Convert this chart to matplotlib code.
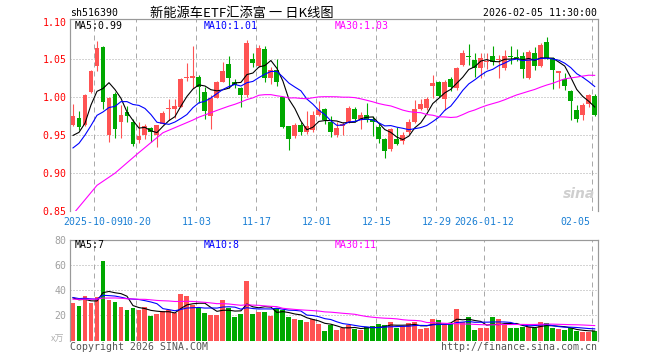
import matplotlib
matplotlib.use('Agg')
import matplotlib.pyplot as plt
import numpy as np
import pandas as pd

# ---------------- data ----------------
tick_idx = [4, 11, 21, 31, 41, 51, 61, 69, 87]
tick_labels = ['2025-10-09', '10-20', '11-03', '11-17', '12-01', '12-15',
               '12-29', '2026-01-12', '02-05']

open_ = [0.9634, 0.9731, 0.9634, 1.0075, 1.0418, 1.0665, 0.9502, 1.0040, 0.9670, 0.9810,
         0.9670, 0.9436, 0.9502, 0.9596, 0.9500, 0.9656, 0.9846, 0.9846, 0.9877, 1.0251,
         1.0260, 1.0269, 1.0066, 0.9758, 0.9996, 1.0207, 1.0436, 1.0198, 1.0128, 1.0030,
         1.0507, 1.0418, 1.0639, 1.0250, 1.0360, 1.0009, 0.9626, 0.9494, 0.9634, 0.9550,
         0.9568, 0.9775, 0.9846, 0.9678, 0.9502, 0.9620, 0.9678, 0.9846, 0.9714, 0.9767,
         0.9714, 0.9612, 0.9450, 0.9317, 0.9450, 0.9423, 0.9538, 0.9678, 0.9846, 0.9864,
         1.0150, 1.0207, 0.9978, 1.0242, 1.0128, 1.0427, 1.0537, 1.0493, 1.0383, 1.0460,
         1.0546, 1.0490, 1.0383, 1.0535, 1.0535, 1.0546, 1.0260, 1.0580, 1.0418, 1.0735,
         1.0516, 1.0320, 1.0242, 1.0084, 0.9833, 0.9767, 0.9908, 1.0020]
high = [0.9907, 0.9819, 1.0050, 1.0360, 1.0749, 1.0680, 1.0010, 1.0075, 0.9900, 0.9885,
        0.9720, 0.9680, 0.9656, 0.9610, 0.9643, 0.9820, 0.9978, 0.9978, 1.0250, 1.0458,
        1.0680, 1.0300, 1.0136, 1.0030, 1.0210, 1.0463, 1.0546, 1.0240, 1.0140, 1.0758,
        1.0581, 1.0690, 1.0683, 1.0400, 1.0510, 1.0010, 0.9630, 0.9660, 0.9678, 0.9820,
        0.9820, 0.9950, 0.9860, 0.9750, 0.9678, 0.9680, 0.9890, 0.9880, 0.9810, 0.9920,
        0.9760, 0.9650, 0.9460, 0.9600, 0.9610, 0.9546, 0.9720, 0.9965, 0.9980, 1.0010,
        1.0300, 1.0220, 1.0230, 1.0270, 1.0400, 1.0625, 1.0705, 1.0580, 1.0580, 1.0580,
        1.0680, 1.0560, 1.0625, 1.0680, 1.0640, 1.0603, 1.0625, 1.0670, 1.0720, 1.0800,
        1.0530, 1.0350, 1.0317, 1.0100, 0.9900, 0.9920, 1.0050, 1.0040]
low = [0.9620, 0.9568, 0.9620, 1.0060, 1.0352, 0.9846, 0.9414, 0.9467, 0.9470, 0.9680,
       0.9360, 0.9400, 0.9458, 0.9416, 0.9350, 0.9650, 0.9700, 0.9735, 0.9870, 1.0220,
       1.0120, 0.9925, 0.9714, 0.9580, 0.9990, 1.0200, 1.0119, 1.0120, 0.9877, 1.0000,
       1.0405, 1.0400, 1.0207, 1.0180, 1.0150, 0.9600, 0.9313, 0.9460, 0.9500, 0.9520,
       0.9550, 0.9750, 0.9650, 0.9480, 0.9480, 0.9500, 0.9660, 0.9680, 0.9590, 0.9670,
       0.9490, 0.9405, 0.9207, 0.9300, 0.9370, 0.9392, 0.9520, 0.9660, 0.9830, 0.9840,
       0.9996, 1.0000, 0.9830, 1.0080, 1.0100, 1.0410, 1.0430, 1.0270, 1.0250, 1.0380,
       1.0430, 1.0260, 1.0360, 1.0436, 1.0480, 1.0260, 1.0240, 1.0360, 1.0400, 1.0500,
       1.0106, 1.0128, 1.0097, 0.9700, 0.9670, 0.9700, 0.9880, 0.9750]
close = [0.9758, 0.9612, 1.0031, 1.0352, 1.0648, 0.9943, 0.9996, 0.9580, 0.9775, 0.9754,
         0.9380, 0.9490, 0.9630, 0.9546, 0.9636, 0.9797, 0.9864, 0.9890, 1.0242, 1.0273,
         1.0280, 1.0140, 0.9819, 0.9996, 1.0198, 1.0348, 1.0250, 1.0163, 1.0030, 1.0714,
         1.0450, 1.0648, 1.0260, 1.0360, 1.0200, 0.9612, 0.9450, 0.9643, 0.9538, 0.9630,
         0.9775, 0.9833, 0.9700, 0.9538, 0.9600, 0.9650, 0.9863, 0.9714, 0.9767, 0.9700,
         0.9670, 0.9450, 0.9295, 0.9582, 0.9392, 0.9502, 0.9678, 0.9846, 0.9910, 0.9978,
         1.0185, 1.0022, 1.0207, 1.0140, 1.0383, 1.0581, 1.0530, 1.0383, 1.0516, 1.0480,
         1.0460, 1.0510, 1.0546, 1.0530, 1.0520, 1.0370, 1.0603, 1.0418, 1.0690, 1.0516,
         1.0360, 1.0348, 1.0154, 0.9952, 0.9714, 0.9899, 1.0031, 0.9775]
volume = [30.1, 27.4, 35.8, 30.1, 34.4, 63.2, 32.3, 30.6, 26.6, 24.2,
          25.8, 24.2, 26.6, 19.4, 21.0, 23.7, 24.2, 21.8, 37.1, 35.5,
          28.2, 26.1, 21.8, 20.2, 20.2, 32.3, 26.3, 18.5, 21.0, 47.6,
          21.0, 22.6, 22.6, 19.6, 26.3, 24.2, 18.8, 16.9, 16.1, 14.8,
          17.5, 12.9, 7.3, 12.6, 8.1, 9.9, 12.6, 8.9, 8.1, 10.8,
          11.6, 12.9, 12.1, 14.5, 9.9, 11.6, 13.7, 14.5, 8.9, 9.9,
          17.2, 16.1, 13.4, 13.4, 25.0, 14.8, 18.5, 8.1, 9.9, 9.9,
          18.5, 16.9, 12.6, 9.9, 9.9, 10.8, 10.8, 9.9, 14.5, 13.7,
          9.9, 8.9, 8.1, 9.9, 7.3, 6.7, 6.7, 7.3]
# closes / volumes of the 29 sessions before the window (for the moving averages)
prev_close = [0.676, 0.718, 0.750, 0.780, 0.834, 0.840, 0.798, 0.773, 0.771, 0.734,
              0.745, 0.768, 0.757, 0.769, 0.785, 0.886, 0.889, 0.924, 0.927, 0.927,
              0.900, 0.895, 0.910, 0.930, 0.950, 0.941, 0.943, 0.915, 0.975]
prev_volume = [30, 35, 28, 33, 38, 31, 29, 34, 36, 30, 33, 27, 32, 35, 31, 30, 34, 36, 31, 33,
               36, 33, 35, 37, 32, 35, 34, 36, 35]
vol_ma_text = ['MA5:7', 'MA10:8', 'MA30:11']

title = '新能源车ETF汇添富 一 日K线图'
code = 'sh516390'
stamp = '2026-02-05 11:30:00'

# ---------------- style ----------------
W, H = 660, 360
PX = 72.0 / 100.0
RED, GREEN = '#ff5353', '#00a800'
C_MA = ['#000000', '#0000ff', '#ff00ff']
GRID = '#aaaaaa'
SPINE = '#999999'
MONO = ['DejaVu Sans Mono']
CJK = ['Noto Sans CJK SC', 'DejaVu Sans']
FS = 7.1

fig = plt.figure(figsize=(W / 100, H / 100), dpi=100)
fig.patch.set_facecolor('white')
ax = fig.add_axes([70 / W, 1 - 211.3 / H, 527.7 / W, 192 / H])
axv = fig.add_axes([70 / W, 1 - 340.5 / H, 527.7 / W, 100.2 / H])

n = len(close)
x = np.arange(n)
o = np.array(open_); c = np.array(close); hi = np.array(high); lo = np.array(low)
up = c >= o
cols = [RED if u else GREEN for u in up]

fullc = pd.Series(prev_close + close)
fullv = pd.Series(prev_volume + volume)
np_ = len(prev_close)
mas = [fullc.rolling(w).mean().values[np_:] for w in (5, 10, 30)]
vmas = [fullv.rolling(w).mean().values[np_:] for w in (5, 10, 30)]

grid_x = [i - 0.42 for i in tick_idx]

# price panel
ax.set_xlim(-0.5, n - 0.5)
ax.set_ylim(0.85, 1.1029)
for g in [0.90, 0.95, 1.00, 1.05]:
    ax.axhline(g, color=GRID, lw=PX, ls=(0, (1, 2)), zorder=0)
for g in grid_x:
    ax.axvline(g, color=GRID, lw=PX, ls=(0, (5, 4)), zorder=0)
ax.vlines(x, lo, hi, colors=cols, lw=PX * 1.1, zorder=2)
body_h = np.maximum(np.abs(c - o), 0.0014)
ax.bar(x, body_h, bottom=np.minimum(o, c), width=0.82, color=cols, lw=0, zorder=3)
for m, col in zip(mas, C_MA):
    ax.plot(x, m, color=col, lw=0.8, zorder=4)

ax.set_yticks([0.85, 0.90, 0.95, 1.00, 1.05, 1.10])
ax.set_yticklabels(['%.2f' % v for v in [0.85, 0.90, 0.95, 1.00, 1.05, 1.10]])
ax.tick_params(axis='y', length=0, pad=2.5, labelcolor='#ff0000', labelsize=FS)
for t in ax.get_yticklabels():
    t.set_family(MONO)
ax.set_xticks([])
for s in ['left', 'top', 'right']:
    ax.spines[s].set_color(SPINE)
    ax.spines[s].set_linewidth(1.2 * PX)
ax.spines['bottom'].set_visible(False)

# date labels
ytr = ax.get_xaxis_transform()
for k, (i, lab) in enumerate(zip(grid_x, tick_labels)):
    ha = 'center'
    xx = i
    if k == 0:
        ha, xx = 'left', (63 - 73) / 6
    if k == len(tick_labels) - 1:
        ha, xx = 'right', (591 - 73) / 6
    ax.text(xx, -0.056, lab, transform=ytr, ha=ha, va='center', fontsize=FS,
            family=MONO, color='#1a7fd4', clip_on=False)

# watermark
ax.text(0.965, 0.09, 'sina', transform=ax.transAxes, ha='center', va='center',
        fontsize=10, fontweight='bold', style='italic', color='#cfcfcf', zorder=1)

# MA texts
fig.text(75 / W, 1 - 26 / H, 'MA5:%.2f' % mas[0][-1], color=C_MA[0], fontsize=FS, family=MONO, va='center')
fig.text(204 / W, 1 - 26 / H, 'MA10:%.2f' % mas[1][-1], color=C_MA[1], fontsize=FS, family=MONO, va='center')
fig.text(334.5 / W, 1 - 26 / H, 'MA30:%.2f' % mas[2][-1], color=C_MA[2], fontsize=FS, family=MONO, va='center')

# header
fig.text(70 / W, 1 - 13.5 / H, code, fontsize=FS, family=MONO, va='center', color='black')
fig.text(597 / W, 1 - 13.5 / H, stamp, fontsize=FS, family=MONO, va='center', ha='right', color='black')
fig.text(242 / W, 1 - 13 / H, title, fontsize=9.5, family=CJK, va='center', ha='center', color='black')

# volume panel
axv.set_xlim(-0.5, n - 0.5)
axv.set_ylim(0, 80)
for g in [20, 40, 60]:
    axv.axhline(g, color=GRID, lw=PX, ls=(0, (1, 2)), zorder=0)
for g in grid_x:
    axv.axvline(g, color=GRID, lw=PX, ls=(0, (5, 4)), zorder=0)
axv.bar(x, volume, width=0.82, color=cols, lw=0, zorder=2)
for m, col in zip(vmas, C_MA):
    axv.plot(x, m, color=col, lw=0.8, zorder=4)
axv.set_yticks([20, 40, 60, 80])
axv.set_yticklabels(['20', '40', '60', '80'])
axv.tick_params(axis='y', length=0, pad=2.5, labelcolor='#a0a0a0', labelsize=FS)
for t in axv.get_yticklabels():
    t.set_family(MONO)
axv.set_xticks([])
for s in ['left', 'top', 'right']:
    axv.spines[s].set_color(SPINE)
    axv.spines[s].set_linewidth(1.2 * PX)
axv.spines['bottom'].set_visible(False)

fig.text(75 / W, 1 - 245.5 / H, vol_ma_text[0], color=C_MA[0], fontsize=FS, family=MONO, va='center')
fig.text(204 / W, 1 - 245.5 / H, vol_ma_text[1], color=C_MA[1], fontsize=FS, family=MONO, va='center')
fig.text(334.5 / W, 1 - 245.5 / H, vol_ma_text[2], color=C_MA[2], fontsize=FS, family=MONO, va='center')
fig.text(64 / W, 1 - 339.5 / H, 'x万', color='#b0b0b0', fontsize=6.5, family=CJK, va='center', ha='right')

fig.text(70 / W, 1 - 347 / H, 'Copyright 2026 SINA.COM', color='#555555', fontsize=FS, family=MONO, va='center')
fig.text(597 / W, 1 - 347 / H, 'http://finance.sina.com.cn', color='#555555', fontsize=FS, family=MONO, va='center', ha='right')

fig.savefig('out.png', dpi=100)
